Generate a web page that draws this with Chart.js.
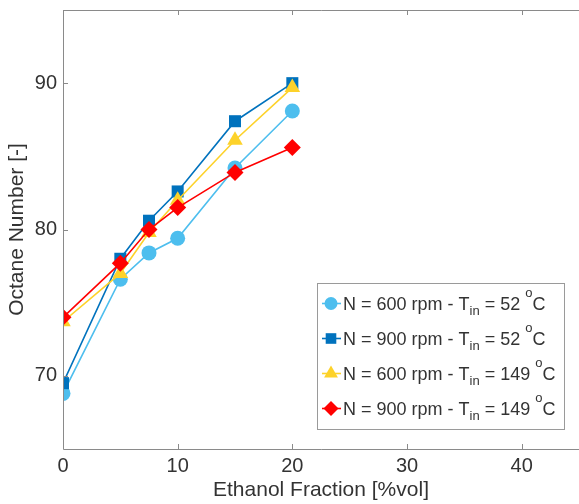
<!DOCTYPE html>
<html>
<head>
<meta charset="utf-8">
<script src="https://cdn.jsdelivr.net/npm/chart.js@4/dist/chart.umd.min.js"></script>
<style>
  html, body { margin: 0; padding: 0; background: #fff; overflow: hidden; }
  canvas { display: block; }
</style>
</head>
<body>
<canvas id="octaneChart" width="579" height="504"></canvas>
<script>
// Ethanol fraction [%vol] tested
const ethanol = [0, 5, 7.5, 10, 15, 20];

// Octane number per operating condition
const on600rpm52C = [68.8, 76.6, 78.4, 79.4, 84.2, 88.1];
const on900rpm52C = [69.5, 78.0, 80.6, 82.6, 87.4, 90.0];
const on600rpm149C = [73.7, 77.0, 79.8, 82.0, 86.1, 89.7];
const on900rpm149C = [74.0, 77.7, 80.0, 81.5, 83.9, 85.6];

// Operating conditions (engine speed, intake temperature)
const speeds = [600, 900, 600, 900];
const intakeTemps = [52, 52, 149, 149];

const xTicks = [0, 10, 20, 30, 40];
const yTicks = [70, 80, 90];

const colors = ['#4dbeee', '#0072bd', '#fdd22a', '#ff0000'];
const markers = ['circle', 'rect', 'triangle', 'rectRot'];
const markerSize = [7.5, 8.5, 9, 8.5];

const series = [on600rpm52C, on900rpm52C, on600rpm149C, on900rpm149C];

const FONT = '"Liberation Sans", Arial, Helvetica, sans-serif';
const AXIS_COLOR = '#8a8a8a';
const TEXT_COLOR = '#333333';

const datasets = series.map((vals, i) => ({
    label: 'N = ' + speeds[i] + ' rpm - T_in = ' + intakeTemps[i] + ' oC',
    data: ethanol.map((x, j) => ({ x: x, y: vals[j] })),
    borderColor: colors[i],
    backgroundColor: colors[i],
    borderWidth: 1.6,
    pointStyle: markers[i],
    pointRadius: markerSize[i],
    pointHoverRadius: markerSize[i],
    pointBorderWidth: 0,
    order: series.length - i,
    tension: 0
}));

function drawMarker(ctx, style, x, y, r, color) {
    ctx.save();
    ctx.fillStyle = color;
    ctx.beginPath();
    if (style === 'circle') {
        ctx.arc(x, y, r, 0, Math.PI * 2);
    } else if (style === 'rect') {
        const s = r * Math.SQRT1_2;
        ctx.rect(x - s, y - s, 2 * s, 2 * s);
    } else if (style === 'triangle') {
        ctx.moveTo(x, y - r);
        ctx.lineTo(x + r * 0.866, y + r * 0.5);
        ctx.lineTo(x - r * 0.866, y + r * 0.5);
        ctx.closePath();
    } else {
        ctx.moveTo(x, y - r);
        ctx.lineTo(x + r, y);
        ctx.lineTo(x, y + r);
        ctx.lineTo(x - r, y);
        ctx.closePath();
    }
    ctx.fill();
    ctx.restore();
}

// Axes frame with inward-pointing ticks (left, bottom and top)
const framePlugin = {
    id: 'frame',
    afterDraw(chart) {
        const { ctx, chartArea: a, scales } = chart;
        const len = 5;
        ctx.save();
        ctx.strokeStyle = AXIS_COLOR;
        ctx.lineWidth = 1;
        ctx.beginPath();
        ctx.moveTo(a.left + 0.5, a.bottom + 0.5);
        ctx.lineTo(a.left + 0.5, a.top + 0.5);
        ctx.lineTo(a.right, a.top + 0.5);
        ctx.moveTo(a.left + 0.5, a.bottom + 0.5);
        ctx.lineTo(a.right, a.bottom + 0.5);
        xTicks.forEach(v => {
            const px = Math.round(scales.x.getPixelForValue(v)) + 0.5;
            ctx.moveTo(px, a.bottom);
            ctx.lineTo(px, a.bottom - len);
            ctx.moveTo(px, a.top);
            ctx.lineTo(px, a.top + len);
        });
        yTicks.forEach(v => {
            const py = Math.round(scales.y.getPixelForValue(v)) + 0.5;
            ctx.moveTo(a.left, py);
            ctx.lineTo(a.left + len, py);
        });
        ctx.stroke();
        ctx.restore();
    }
};

// Legend with subscript "in" and superscript "o"
const legendBox = { left: 317.5, top: 283.5, width: 247, height: 146, rowTop: 310, rowStep: 35 };

const texLegendPlugin = {
    id: 'texLegend',
    afterDraw(chart) {
        const ctx = chart.ctx;
        const b = legendBox;
        ctx.save();
        ctx.fillStyle = '#ffffff';
        ctx.fillRect(b.left, b.top, b.width, b.height);
        ctx.strokeStyle = '#9a9a9a';
        ctx.lineWidth = 1;
        ctx.strokeRect(b.left, b.top, b.width, b.height);

        chart.data.datasets.forEach((ds, i) => {
            const base = b.rowTop + i * b.rowStep;
            const my = base - 6.5;
            ctx.strokeStyle = colors[i];
            ctx.lineWidth = 1.6;
            ctx.beginPath();
            ctx.moveTo(322, my);
            ctx.lineTo(341, my);
            ctx.stroke();
            drawMarker(ctx, markers[i], 331, my, markerSize[i] - 1, colors[i]);

            ctx.fillStyle = TEXT_COLOR;
            ctx.textBaseline = 'alphabetic';
            ctx.textAlign = 'left';
            let x = 343;
            const put = (txt, size, dy) => {
                ctx.font = size + 'px ' + FONT;
                ctx.fillText(txt, x, base + dy);
                x += ctx.measureText(txt).width;
            };
            put('N = ' + speeds[i] + ' rpm - T', 18, 0);
            put('in', 13, 5);
            put(' = ' + intakeTemps[i] + ' ', 18, 0);
            put('o', 13, -13);
            put('C', 18, 0);
        });
        ctx.restore();
    }
};

const ctx = document.getElementById('octaneChart').getContext('2d');
const octaneChart = new Chart(ctx, {
    type: 'line',
    data: { datasets: datasets },
    options: {
        responsive: false,
        animation: false,
        layout: { autoPadding: false, padding: { top: 10, right: 0, bottom: 0, left: 0 } },
        plugins: {
            legend: { display: false },
            tooltip: { enabled: false }
        },
        scales: {
            x: {
                type: 'linear',
                min: 0,
                max: 45,
                afterBuildTicks: scale => { scale.ticks = xTicks.map(v => ({ value: v })); },
                afterFit: scale => {
                    scale.height = 55;
                    scale.paddingLeft = 0;
                    scale.paddingRight = 0;
                },
                grid: { display: false, drawTicks: false },
                border: { display: false },
                ticks: {
                    padding: 5,
                    color: TEXT_COLOR,
                    font: { family: FONT, size: 20 }
                },
                title: {
                    display: true,
                    text: 'Ethanol Fraction [%vol]',
                    color: TEXT_COLOR,
                    font: { family: FONT, size: 21 },
                    padding: { top: 0, bottom: 1 }
                }
            },
            y: {
                type: 'linear',
                min: 65,
                max: 95,
                afterBuildTicks: scale => { scale.ticks = yTicks.map(v => ({ value: v })); },
                afterFit: scale => {
                    scale.width = 63;
                    scale.paddingTop = 0;
                    scale.paddingBottom = 0;
                },
                grid: { display: false, drawTicks: false },
                border: { display: false },
                ticks: {
                    padding: 6,
                    color: TEXT_COLOR,
                    font: { family: FONT, size: 20 }
                },
                title: {
                    display: true,
                    text: 'Octane Number [-]',
                    color: TEXT_COLOR,
                    font: { family: FONT, size: 21 },
                    padding: { top: 5, bottom: 0 }
                }
            }
        }
    },
    plugins: [framePlugin, texLegendPlugin]
});
</script>
</body>
</html>
